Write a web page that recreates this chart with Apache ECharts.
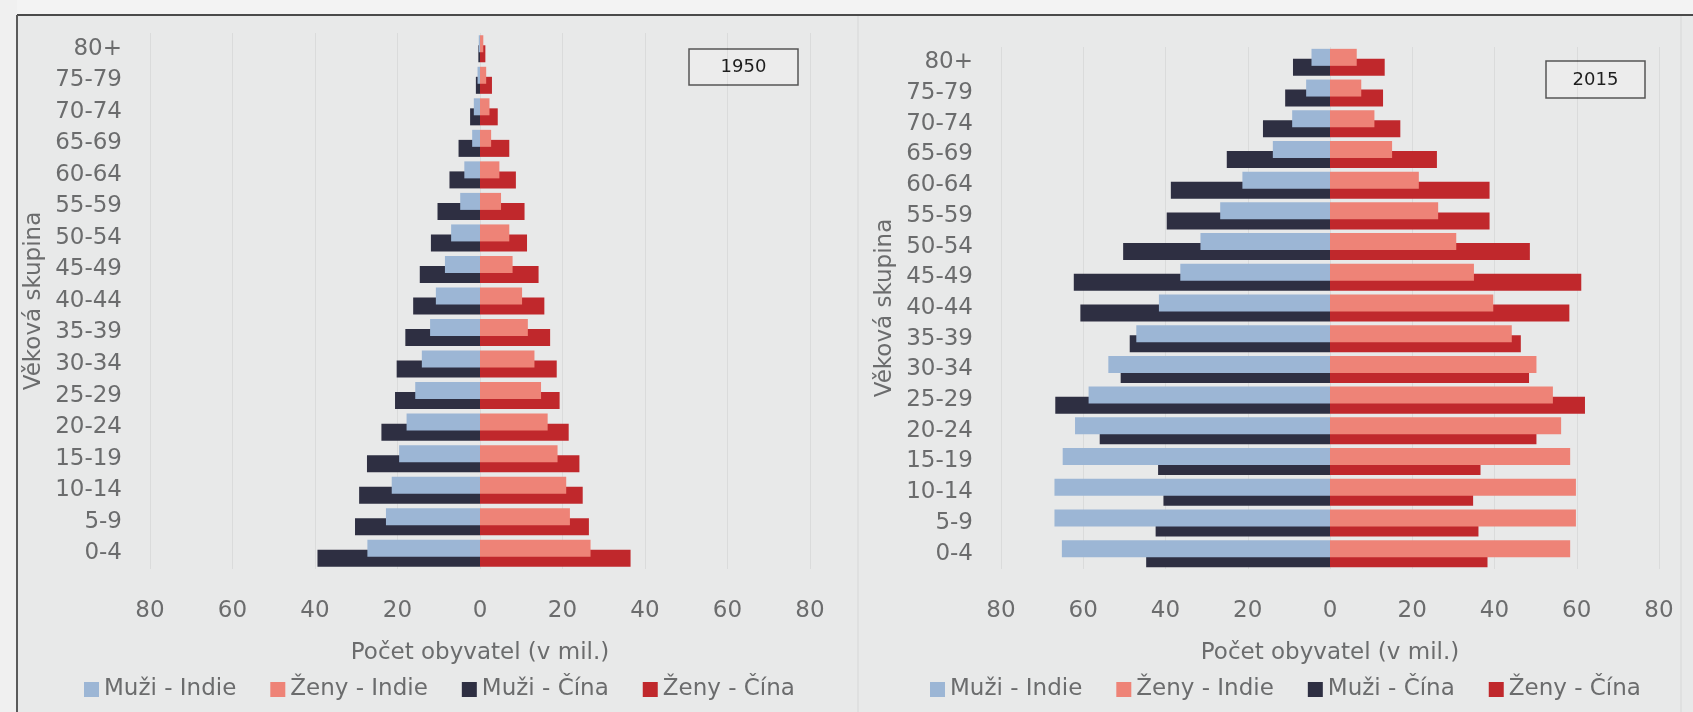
<!DOCTYPE html>
<html>
<head>
<meta charset="utf-8">
<script src="https://cdn.jsdelivr.net/npm/echarts@6/dist/echarts.min.js"></script>
<style>
html,body{margin:0;padding:0;background:#e8e9e9;}
#c{width:1693px;height:712px;}
</style>
</head>
<body>
<div id="c"></div>
<script>
// ---- data (millions), bottom (0-4) to top (80+) ----
const ageGroups = ['0-4','5-9','10-14','15-19','20-24','25-29','30-34','35-39','40-44','45-49','50-54','55-59','60-64','65-69','70-74','75-79','80+'];
const xTicks = [-80,-60,-40,-20,0,20,40,60,80];
const seriesNames = ['Muži - Indie','Ženy - Indie','Muži - Čína','Ženy - Čína'];
const years = ['1950','2015'];

const muziIndie1950 = [27.3,22.8,21.4,19.6,17.8,15.7,14.1,12.1,10.7,8.5,7.0,4.8,3.8,1.9,1.5,0.6,0.3];
const zenyIndie1950 = [26.8,21.8,20.9,18.8,16.4,14.8,13.2,11.6,10.2,7.9,7.1,5.1,4.7,2.7,2.3,1.5,0.8];
const muziCina1950  = [39.4,30.3,29.3,27.4,23.9,20.6,20.2,18.1,16.2,14.6,11.9,10.3,7.4,5.2,2.4,1.0,0.4];
const zenyCina1950  = [36.5,26.4,24.9,24.1,21.5,19.3,18.6,17.0,15.6,14.2,11.4,10.8,8.7,7.1,4.3,2.9,1.3];

const muziIndie2015 = [65.2,67.0,67.0,65.0,62.0,58.7,53.9,47.1,41.6,36.4,31.5,26.7,21.3,13.9,9.2,5.8,4.5];
const zenyIndie2015 = [58.4,59.8,59.8,58.4,56.2,54.2,50.2,44.2,39.7,35.0,30.7,26.3,21.6,15.1,10.8,7.6,6.5];
const muziCina2015  = [44.7,42.4,40.5,41.8,56.0,66.8,50.9,48.7,60.7,62.3,50.3,39.7,38.7,25.1,16.3,10.9,9.0];
const zenyCina2015  = [38.3,36.1,34.8,36.6,50.2,62.0,48.4,46.4,58.2,61.1,48.6,38.8,38.8,26.0,17.1,12.9,13.3];

// ---- styling ----
const FONT = 'DejaVu Sans';
const TXT = '#6b6c6d';
const COLORS = ['#9cb6d5','#ee8377','#2e2f42','#c0282c'];

const panels = [
  {data:[muziIndie1950,zenyIndie1950,muziCina1950,zenyCina1950], grid:{left:150,width:660,top:33,height:536}, legendLeft:79},
  {data:[muziIndie2015,zenyIndie2015,muziCina2015,zenyCina2015], grid:{left:1001,width:658,top:47,height:522}, legendLeft:925}
];

const grids=[], xAxes=[], yAxes=[], series=[], legends=[];
panels.forEach((p,g)=>{
  grids.push(Object.assign({containLabel:false}, p.grid));
  xAxes.push({
    type:'value', gridIndex:g, min:xTicks[0], max:xTicks[xTicks.length-1], interval:20,
    axisLine:{show:false}, axisTick:{show:false},
    splitLine:{show:true, lineStyle:{color:'rgba(0,0,0,0.06)', width:1}},
    axisLabel:{margin:31, color:TXT, fontFamily:FONT, fontSize:23, formatter:v=>String(Math.abs(v))},
    name:'Počet obyvatel (v mil.)', nameLocation:'middle', nameGap:73,
    nameTextStyle:{color:TXT, fontFamily:FONT, fontSize:23}
  });
  yAxes.push({
    type:'category', gridIndex:g, data:ageGroups,
    axisLine:{show:false, onZero:false}, axisTick:{show:false},
    axisLabel:{margin:28, color:TXT, fontFamily:FONT, fontSize:23},
    name:'Věková skupina', nameLocation:'middle', nameRotate:90, nameGap:104,
    nameTextStyle:{color:TXT, fontFamily:FONT, fontSize:23}
  });
  p.data.forEach((arr,i)=>{
    const isMale = (i%2===0);
    const isIndia = (i<2);
    series.push({
      name:seriesNames[i], type:'bar', xAxisIndex:g, yAxisIndex:g,
      stack:(isIndia?'indie':'cina')+g,
      data:arr.map(v=>isMale?-v:v),
      barWidth:17, barGap:'-41%',
      z:isIndia?3:2,
      itemStyle:{color:COLORS[i]},
      emphasis:{disabled:true}
    });
  });
  legends.push({
    left:p.legendLeft, top:673, itemWidth:15, itemHeight:15, itemGap:34, icon:'rect',
    data:seriesNames, selectedMode:false,
    textStyle:{color:TXT, fontFamily:FONT, fontSize:23}
  });
});

const chart = echarts.init(document.getElementById('c'));
chart.setOption({
  backgroundColor:'#e8e9e9',
  animation:false,
  color:COLORS,
  grid:grids, xAxis:xAxes, yAxis:yAxes, series:series, legend:legends,
  graphic:[
    {type:'rect', z:-10, shape:{x:0,y:0,width:1693,height:15}, style:{fill:'#f3f3f3'}},
    {type:'rect', z:-10, shape:{x:0,y:0,width:17,height:712}, style:{fill:'#f0f0f0'}},
    {type:'line', z:-5, shape:{x1:17,y1:15,x2:1693,y2:15}, style:{stroke:'#4a4a4a', lineWidth:2}},
    {type:'line', z:-5, shape:{x1:17,y1:15,x2:17,y2:712}, style:{stroke:'#5a5a5a', lineWidth:2}},
    {type:'line', z:-5, shape:{x1:858,y1:16,x2:858,y2:712}, style:{stroke:'rgba(0,0,0,0.07)', lineWidth:1}},
    {type:'line', z:-5, shape:{x1:1681,y1:16,x2:1681,y2:712}, style:{stroke:'rgba(0,0,0,0.07)', lineWidth:1}},
    {type:'rect', shape:{x:689,y:49,width:109,height:36}, style:{fill:'#ececec', stroke:'#555', lineWidth:1.5}},
    {type:'text', x:743.5, y:67.5, style:{text:years[0], fill:'#1e1e1e', font:'18px "DejaVu Sans"', align:'center', verticalAlign:'middle'}},
    {type:'rect', shape:{x:1546,y:61,width:99,height:37}, style:{fill:'#ececec', stroke:'#555', lineWidth:1.5}},
    {type:'text', x:1595.5, y:80, style:{text:years[1], fill:'#1e1e1e', font:'18px "DejaVu Sans"', align:'center', verticalAlign:'middle'}}
  ]
});
</script>
</body>
</html>
